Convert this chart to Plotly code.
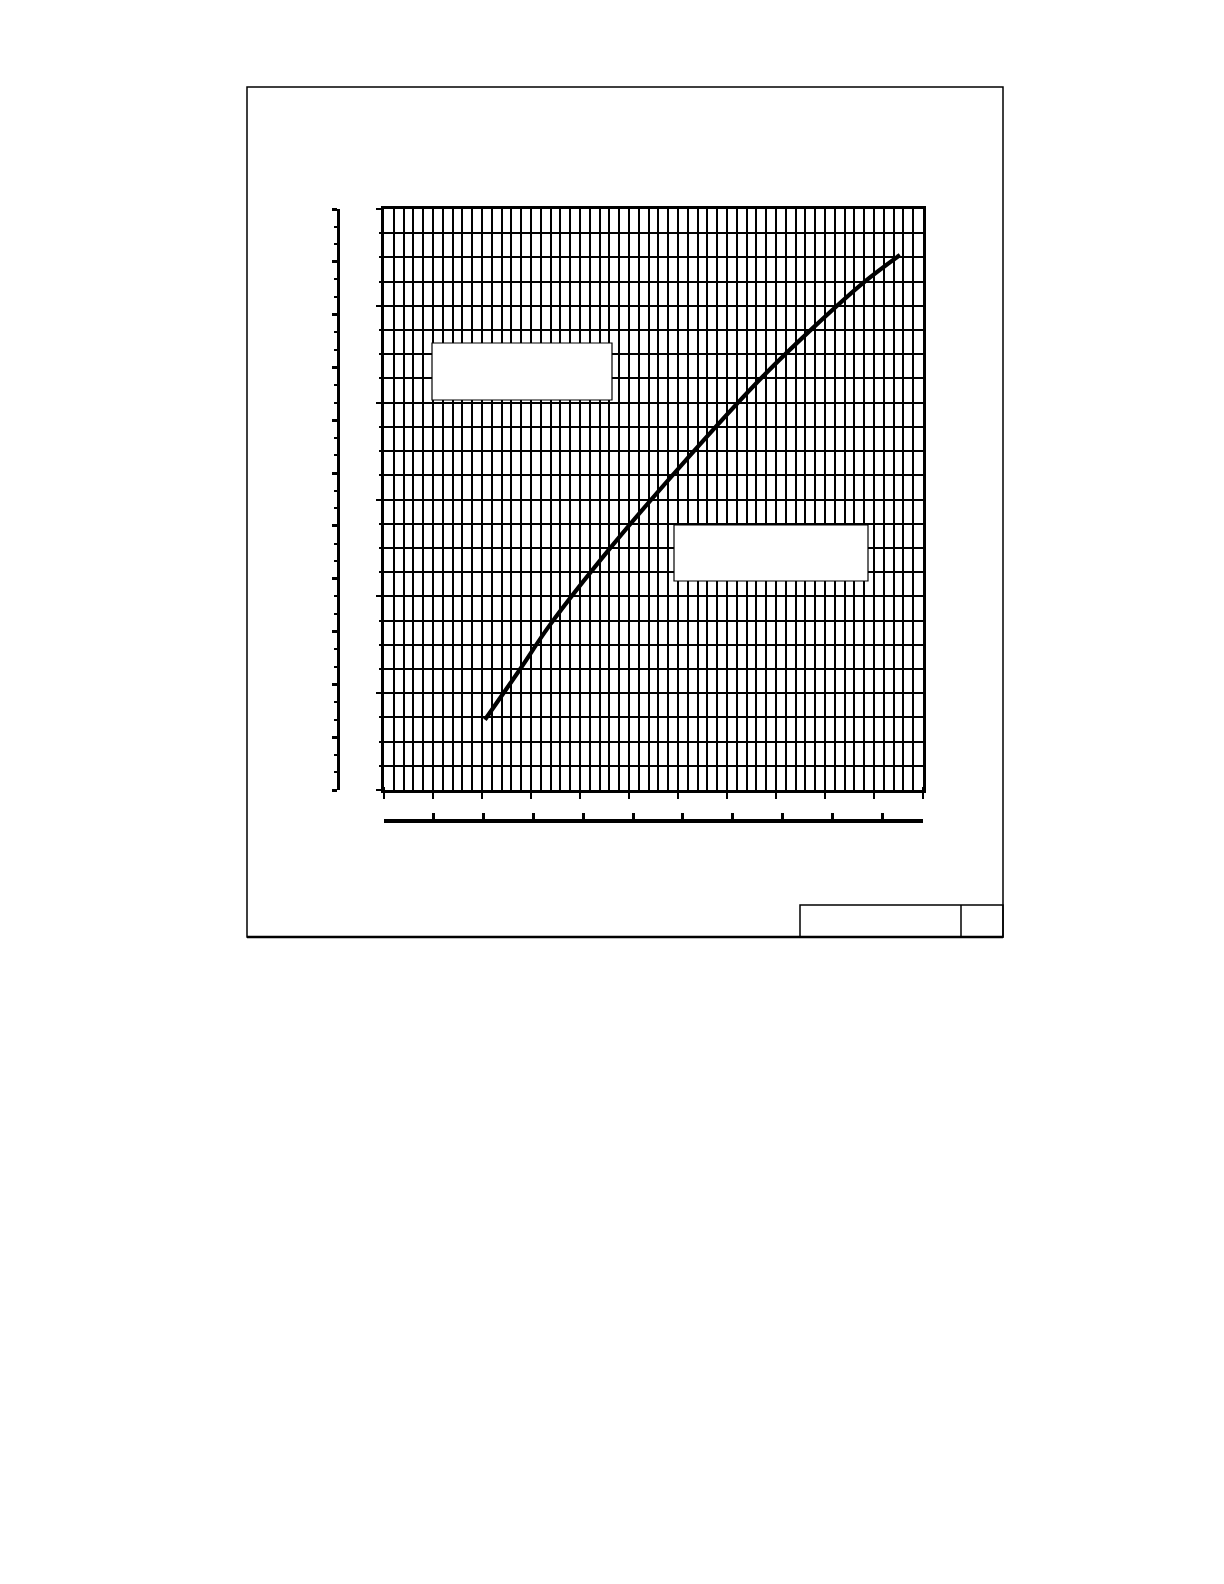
import plotly.graph_objects as go

W, H = 1224, 1584
PAD = 8  # page body margin

# curve, in small squares (x across, y up)
curve_x = [10.3, 13.9, 16.9, 23.1, 30.2, 38.7, 43.8, 48.9, 52.65]
curve_y = [2.9, 5.0, 6.8, 10.0, 13.35, 17.1, 19.1, 20.95, 22.1]

grid_cols = 55      # small squares across the grid
grid_rows = 24      # small squares up the grid
side_steps = 33     # steps on the separate left scale
lower_steps = 10.82 # steps on the separate lower scale (last one runs off the end)

FW, FH = W - 2 * PAD, H - 2 * PAD


def px(x):
    return (x - PAD) / FW


def py(y):
    return 1 - (y - PAD) / FH


ink = "black"

fig = go.Figure()
fig.add_trace(go.Scatter(x=curve_x, y=curve_y, mode="lines", line=dict(color=ink, width=4.2, shape="spline"),
                         showlegend=False, hoverinfo="skip"))
# empty trace so the two loose scales get drawn
fig.add_trace(go.Scatter(x=[], y=[], xaxis="x2", yaxis="y2", showlegend=False, hoverinfo="skip"))

grid_style = dict(showgrid=True, gridcolor=ink, gridwidth=1.8, zeroline=False, showticklabels=False,
                  showline=True, linecolor=ink, linewidth=2.5, mirror=True, tickcolor=ink)

fig.update_layout(
    width=FW, height=FH, template="none",
    margin=dict(l=0, r=0, t=0, b=0),
    paper_bgcolor="white", plot_bgcolor="white",
    showlegend=False,
    xaxis=dict(domain=[px(384), px(923)], range=[0, grid_cols], tick0=0, dtick=5,
               ticks="outside", ticklen=6, tickwidth=2,
               minor=dict(tick0=0, dtick=1, ticks="inside", ticklen=3, tickwidth=1.5, tickcolor=ink,
                          showgrid=True, gridcolor=ink, gridwidth=1.8),
               **grid_style),
    yaxis=dict(domain=[py(790), py(209)], range=[0, grid_rows], tick0=0, dtick=4,
               ticks="outside", ticklen=5, tickwidth=2,
               minor=dict(tick0=0, dtick=1, ticks="outside", ticklen=2, tickwidth=1.5, tickcolor=ink,
                          showgrid=True, gridcolor=ink, gridwidth=1.8),
               **grid_style),
    yaxis2=dict(overlaying="y", anchor="free", position=px(338), side="left",
                range=[0, side_steps], tick0=0, dtick=3, ticks="outside", ticklen=5, tickwidth=2.5, tickcolor=ink,
                minor=dict(tick0=0, dtick=1, ticks="outside", ticklen=3, tickwidth=2, tickcolor=ink),
                showline=True, linecolor=ink, linewidth=3, showgrid=False, zeroline=False, showticklabels=False),
    xaxis2=dict(overlaying="x", anchor="free", position=py(821), side="bottom",
                range=[0, lower_steps], tick0=0, dtick=1, ticks="inside", ticklen=6, tickwidth=2.5, tickcolor=ink,
                showline=True, linecolor=ink, linewidth=3.5, showgrid=False, zeroline=False, showticklabels=False),
)

# drawing frame, title block and the two blank label boxes
frame = dict(type="rect", xref="paper", yref="paper", line=dict(color=ink, width=1.5))
fig.add_shape(**frame, x0=px(247), x1=px(1003), y0=py(937), y1=py(87))
fig.add_shape(**frame, x0=px(800), x1=px(1003), y0=py(937), y1=py(905))
fig.add_shape(type="line", xref="paper", yref="paper", x0=px(961), x1=px(961), y0=py(937), y1=py(905),
              line=dict(color=ink, width=1.5))
fig.add_shape(type="line", xref="paper", yref="paper", x0=px(247), x1=px(1003), y0=py(937), y1=py(937),
              line=dict(color=ink, width=2.5))
box = dict(type="rect", xref="paper", yref="paper", fillcolor="white", layer="above", line=dict(color=ink, width=1.2))
fig.add_shape(**box, x0=px(432), x1=px(612), y0=py(400), y1=py(343))
fig.add_shape(**box, x0=px(674), x1=px(868), y0=py(581), y1=py(525))

fig.write_html("out.html")
